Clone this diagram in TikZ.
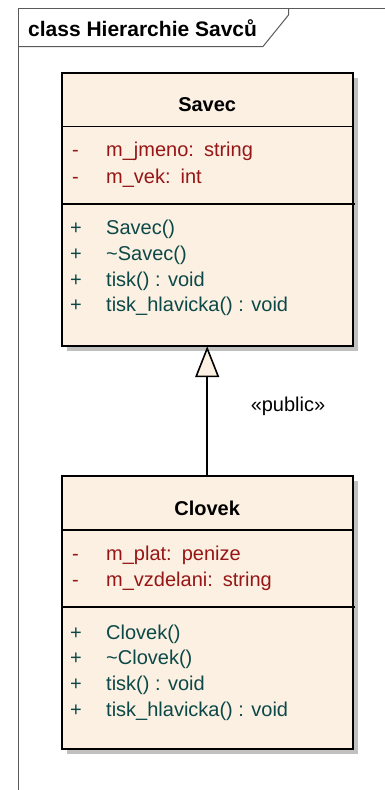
\documentclass[tikz,border=0pt]{standalone}
\usepackage{fontspec}
\setmainfont{Liberation Sans}
\usetikzlibrary{arrows.meta,shadows,calc}
\definecolor{cream}{RGB}{251,240,225}
\definecolor{shade}{RGB}{192,192,192}
\definecolor{attrred}{RGB}{150,22,22}
\definecolor{methteal}{RGB}{12,72,72}
\definecolor{framegray}{RGB}{90,90,90}
\newcommand{\txtfont}{\fontsize{20}{24}\selectfont}
\newcommand{\frmfont}{\fontsize{21}{25}\selectfont}
\tikzset{
  classbox/.style={draw=black, line width=2pt, fill=cream, rectangle, inner sep=0pt, outer sep=0pt,
    minimum width=291pt, minimum height=273pt,
    drop shadow={shadow xshift=5pt, shadow yshift=-5pt, fill=shade, opacity=1}},
  sepline/.style={draw=black, line width=1.6pt},
  framel/.style={draw=framegray, line width=1pt},
  ctitle/.style={anchor=base, inner sep=0pt, font=\txtfont\bfseries},
  attr/.style={anchor=base west, inner sep=0pt, text=attrred, font=\txtfont},
  meth/.style={anchor=base west, inner sep=0pt, text=methteal, font=\txtfont},
  lbl/.style={inner sep=0pt, font=\txtfont},
  inherit/.style={draw=black, line width=1.6pt, -{Triangle[open, fill=cream, length=31pt, width=24pt]}}
}
\begin{document}
\begin{tikzpicture}[x=1pt,y=-1pt]
\useasboundingbox (0,0) rectangle (385,790);
% frame
\draw[framel] (18,790) -- (18,8.5) -- (385,8.5);
\draw[framel] (18,46.5) -- (263,46.5) -- (288.5,15) -- (288.5,8.5);
\node[anchor=base west, inner sep=0pt, font=\frmfont\bfseries] (frametitle) at (28,36) {class Hierarchie Savců};

% Savec
\node[classbox] (savec) at (207.2,209.7) {};
\draw[sepline] ($(savec.north west)+(0,53.4)$) -- ($(savec.north east)+(0,53.4)$);
\draw[sepline] ($(savec.north west)+(0,131)$) -- ($(savec.north east)+(2.5,131)$);
\node[ctitle] (savect) at (207.2,111.3) {Savec};
\node[attr] (sa1v) at (72,156.5) {-};
\node[attr] (sa1) at (106,156.5) {m\_jmeno:\hspace{10pt}string};
\node[attr] (sa2v) at (72,183) {-};
\node[attr] (sa2) at (106,183) {m\_vek:\hspace{10pt}int};
\node[meth] (sm1v) at (70,234) {+};
\node[meth] (sm1) at (106,234) {Savec()};
\node[meth] (sm2v) at (70,260) {+};
\node[meth] (sm2) at (106,260) {\char`\~Savec()};
\node[meth] (sm3v) at (70,286) {+};
\node[meth] (sm3) at (106,286) {tisk() : void};
\node[meth] (sm4v) at (70,311.5) {+};
\node[meth] (sm4) at (106,311.5) {tisk\_hlavicka() : void};

% Clovek
\node[classbox] (clovek) at (207.2,612.2) {};
\draw[sepline] ($(clovek.north west)+(0,54.3)$) -- ($(clovek.north east)+(0,54.3)$);
\draw[sepline] ($(clovek.north west)+(0,131)$) -- ($(clovek.north east)+(2.5,131)$);
\node[ctitle] (clovekt) at (207.2,515.6) {Clovek};
\node[attr] (ca1v) at (72,560.5) {-};
\node[attr] (ca1) at (106,560.5) {m\_plat:\hspace{10pt}penize};
\node[attr] (ca2v) at (72,586) {-};
\node[attr] (ca2) at (106,586) {m\_vzdelani:\hspace{10pt}string};
\node[meth] (cm1v) at (70,639) {+};
\node[meth] (cm1) at (106,639) {Clovek()};
\node[meth] (cm2v) at (70,664.5) {+};
\node[meth] (cm2) at (106,664.5) {\char`\~Clovek()};
\node[meth] (cm3v) at (70,690.5) {+};
\node[meth] (cm3) at (106,690.5) {tisk() : void};
\node[meth] (cm4v) at (70,716) {+};
\node[meth] (cm4) at (106,716) {tisk\_hlavicka() : void};

% generalization
\draw[inherit] (clovek.north) -- (savec.south);
\node[lbl] (stereo) at (288,406.7) {«public»};
\end{tikzpicture}
\end{document}
